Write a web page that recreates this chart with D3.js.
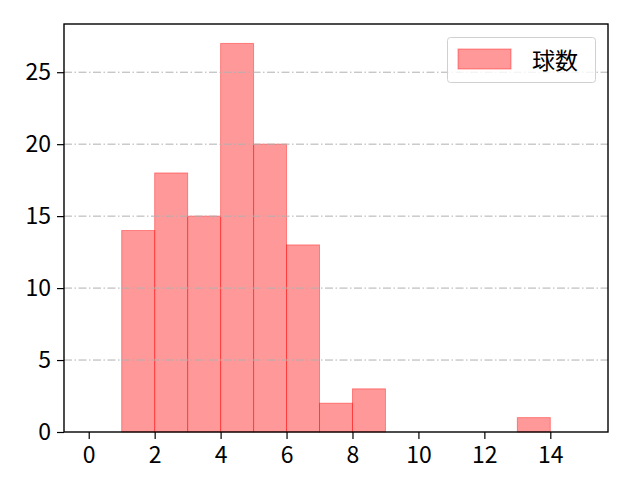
<!DOCTYPE html>
<html><head><meta charset="utf-8">
<script src="https://cdn.jsdelivr.net/npm/d3@7"></script>
<style>body{margin:0;background:#fff}svg{display:block}text{font-family:"Noto Sans CJK JP","Noto Sans",sans-serif}</style>
</head><body>
<script>
const binStarts = [1,2,3,4,5,6,7,8,13];
const counts = [14,18,15,27,20,13,2,3,1];
const xTicks = [0,2,4,6,8,10,12,14];
const yTicks = [0,5,10,15,20,25];
const seriesName = "球数";

const W=640,H=480, L=64, R=608, T=24, B=432;
const svg=d3.select("body").append("svg").attr("width",W).attr("height",H);
const x=d3.scaleLinear().domain([-0.75,15.75]).range([L,R]);
const y=d3.scaleLinear().domain([0,28.35]).range([B,T]);

// bars
svg.append("g").selectAll("rect").data(binStarts.map((s,i)=>({s,c:counts[i]}))).join("rect")
 .attr("x",d=>x(d.s)).attr("width",d=>x(d.s+1)-x(d.s))
 .attr("y",d=>y(d.c)).attr("height",d=>y(0)-y(d.c))
 .attr("fill","rgba(255,0,0,0.4)").attr("stroke","rgba(255,0,0,0.4)").attr("stroke-width",1);

// grid
svg.append("g").selectAll("line").data(yTicks.filter(v=>v>0)).join("line")
 .attr("x1",L).attr("x2",R).attr("y1",d=>y(d)).attr("y2",d=>y(d))
 .attr("stroke","#b0b0b0").attr("stroke-width",1).attr("stroke-dasharray","8,2.5,1.5,2.5");

// axes
const xa=svg.append("g").attr("transform",`translate(0,${B})`)
 .call(d3.axisBottom(x).tickValues(xTicks).tickSize(7).tickPadding(8));
const ya=svg.append("g").attr("transform",`translate(${L},0)`)
 .call(d3.axisLeft(y).tickValues(yTicks).tickSize(7).tickPadding(6));
[xa,ya].forEach(a=>{a.select(".domain").remove();a.selectAll("line").attr("stroke","#000").attr("stroke-width",1.2);
 a.selectAll("text").attr("font-size",23).attr("fill","#000").style("font-family",'"Noto Sans CJK JP",sans-serif');});
svg.append("rect").attr("x",L).attr("y",T).attr("width",R-L).attr("height",B-T)
 .attr("fill","none").attr("stroke","#000").attr("stroke-width",1.4);

// legend
const lg=svg.append("g");
lg.append("rect").attr("x",447.5).attr("y",37.5).attr("width",148).attr("height",45).attr("rx",3)
 .attr("fill","rgba(255,255,255,0.8)").attr("stroke","#d0d0d0");
lg.append("rect").attr("x",458).attr("y",49).attr("width",53).attr("height",20)
 .attr("fill","rgba(255,0,0,0.4)").attr("stroke","rgba(255,0,0,0.4)");
lg.append("text").attr("x",532).attr("y",59).attr("dominant-baseline","central").attr("font-size",23).text(seriesName);
</script>
</body></html>
